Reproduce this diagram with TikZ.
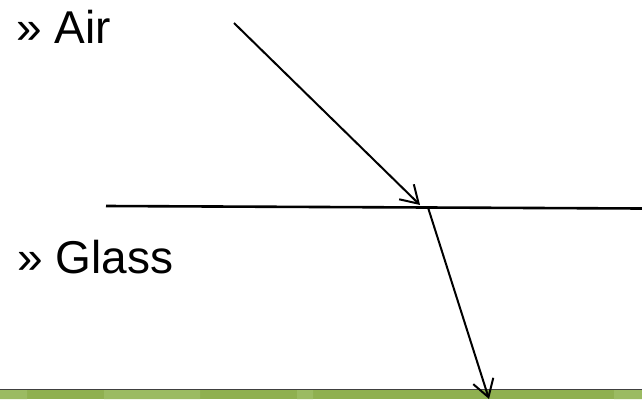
\documentclass[tikz,border=0pt]{standalone}
\usepackage{fontspec}
\setmainfont{Liberation Sans}
\usetikzlibrary{arrows.meta}
\definecolor{bandgreen}{RGB}{143,176,80}
\definecolor{bandlight}{RGB}{155,187,98}
\definecolor{bandedge}{RGB}{64,64,64}

\begin{document}
\begin{tikzpicture}[x=1pt,y=-1pt,
label/.style={anchor=base west,inner sep=0pt,font=\fontsize{46}{50}\selectfont},
ray/.style={-{Straight Barb[length=17pt,width=21pt,line width=2pt]},line width=2pt},
surface/.style={line width=2.6pt}]
\useasboundingbox (0,0) rectangle (642,399);
% bottom band
\fill[bandgreen] (0,390) rectangle (642,399);
\fill[bandlight] (0,390) rectangle (27,399) (104,390) rectangle (200,399) (297,390) rectangle (313,399) (614,390) rectangle (642,399);
\draw[bandedge,line width=1.5pt] (0,389.5) -- (642,389.5);
% labels
\node[label] (air) at (16,43) {» Air};
\node[label] (glass) at (17,273) {» Glass};
% interface and rays
\coordinate (sl) at (106,206); \coordinate (sr) at (642,208.5);
\coordinate (src) at (234,23); \coordinate (hit) at (420,205);
\coordinate (exit) at (428,207.5); \coordinate (out) at (489,399);
\draw[surface] (sl) -- (sr);
\draw[ray] (src) -- (hit);
\draw[ray] (exit) -- (out);
\end{tikzpicture}
\end{document}
